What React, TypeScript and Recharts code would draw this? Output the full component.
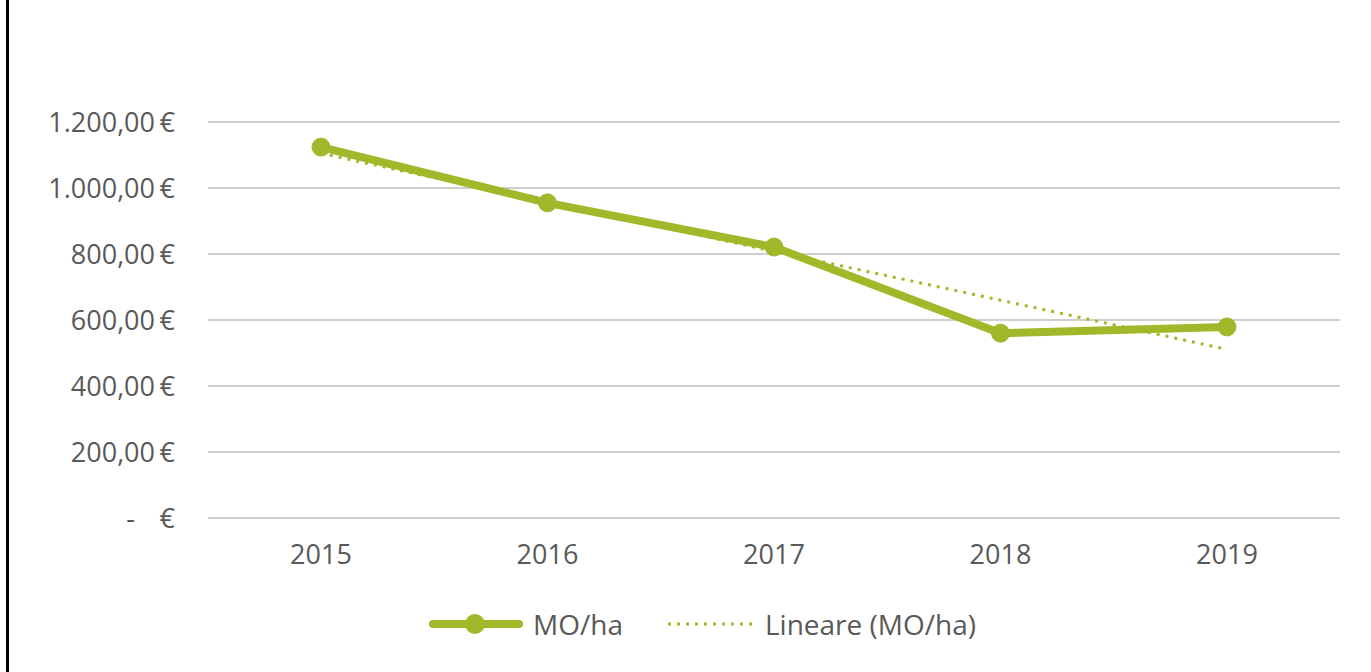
import React from 'react';
import { LineChart, Line, XAxis, YAxis, CartesianGrid } from 'recharts';

const years = ['2015', '2016', '2017', '2018', '2019'];
const moPerHa = [1124, 955, 821, 560, 579];
const trendValues = [1105, 957, 808, 660, 511];
const yTicks = [0, 200, 400, 600, 800, 1000, 1200];

const data = years.map((y, i) => ({ year: y, mo: moPerHa[i], trend: trendValues[i] }));

const GREEN = '#A0B82A';
const TEXT = '#595959';
const FONT = "'Open Sans', 'Noto Sans', sans-serif";
const FS_Y = 27;
const FS_X = 27;
const FS_L = 28;

const fmt = (v: number) => {
  const fixed = v.toFixed(2);
  const [int, dec] = fixed.split('.');
  const withDots = int.replace(/\B(?=(\d{3})+(?!\d))/g, '.');
  return `${withDots},${dec}`;
};

const YTick = (props: any) => {
  const { x, y, payload } = props;
  const v = payload.value as number;
  return (
    <g>
      {v === 0 ? (
        <text x={x - 40} y={y} dy={10} textAnchor="end" fill={TEXT} fontSize={FS_Y} fontFamily={FONT}>-</text>
      ) : (
        <text x={x - 20} y={y} dy={10} textAnchor="end" fill={TEXT} fontSize={FS_Y} fontFamily={FONT}>{fmt(v)}</text>
      )}
      <text x={x} y={y} dy={10} textAnchor="end" fill={TEXT} fontSize={FS_Y} fontFamily={FONT}>€</text>
    </g>
  );
};

const LegendBox = () => (
  <div style={{ position: 'absolute', left: 428, top: 604, height: 40, display: 'flex', alignItems: 'center', fontFamily: FONT, fontSize: FS_L, color: TEXT, whiteSpace: 'nowrap' }}>
    <svg width={96} height={24} style={{ marginRight: 9 }}>
      <line x1={5} y1={12} x2={91} y2={12} stroke={GREEN} strokeWidth={8} strokeLinecap="round" />
      <circle cx={47} cy={12} r={10} fill={GREEN} />
    </svg>
    <span>MO/ha</span>
    <svg width={88} height={24} style={{ marginLeft: 43, marginRight: 11 }}>
      <line x1={2} y1={12} x2={86} y2={12} stroke={GREEN} strokeWidth={3} strokeDasharray="3 6" />
    </svg>
    <span>Lineare (MO/ha)</span>
  </div>
);

export default function App() {
  return (
    <div style={{ position: 'absolute', left: 0, top: 0, width: 1371, height: 672, background: '#fff' }}>
      <div style={{ position: 'absolute', left: 6, top: 0, width: 3, height: 672, background: '#000' }} />
      <LineChart width={1371} height={672} data={data} margin={{ top: 122, right: 31, bottom: 124, left: 0 }}>
        <CartesianGrid vertical={false} stroke="#CFCFCF" strokeWidth={2} />
        <XAxis
          dataKey="year"
          axisLine={{ stroke: '#CFCFCF', strokeWidth: 2 }}
          tickLine={false}
          tick={{ fill: TEXT, fontSize: FS_X, fontFamily: FONT }}
          tickMargin={21}
          padding={{ left: 113, right: 113 }}
        />
        <YAxis
          width={208}
          domain={[0, 1200]}
          ticks={yTicks}
          axisLine={false}
          tickLine={false}
          tickMargin={27}
          tick={<YTick />}
          interval={0}
        />
        <Line dataKey="trend" stroke={GREEN} strokeWidth={3} strokeDasharray="3 6" dot={false} isAnimationActive={false} />
        <Line dataKey="mo" stroke={GREEN} strokeWidth={8} dot={{ r: 9, fill: GREEN, stroke: GREEN, strokeWidth: 1 }} activeDot={false} isAnimationActive={false} />
      </LineChart>
      <LegendBox />
    </div>
  );
}
